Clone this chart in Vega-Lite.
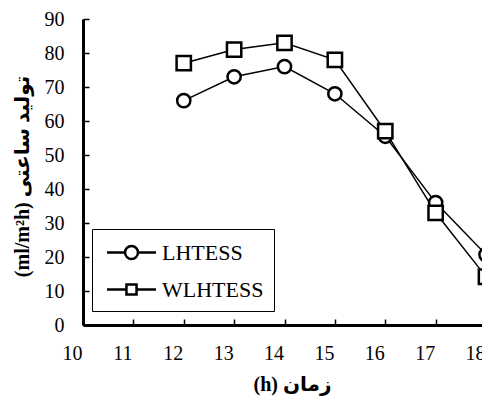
{
  "$schema": "https://vega.github.io/schema/vega-lite/v6.json",
  "width": 403,
  "height": 306,
  "autosize": "none",
  "padding": {"left": 83, "top": 19, "right": 0, "bottom": 71},
  "background": "white",
  "config": {
    "view": {"stroke": null},
    "font": "Liberation Serif",
    "axis": {
      "grid": false,
      "domainColor": "black",
      "domainWidth": 3,
      "tickColor": "black",
      "tickWidth": 1.5,
      "tickSize": -6,
      "labelFont": "Liberation Serif",
      "labelFontSize": 20,
      "labelColor": "black",
      "labelFlush": false,
      "titleFont": "Liberation Serif, DejaVu Sans",
      "titleFontWeight": "bold",
      "titleFontSize": 20,
      "titleColor": "black"
    },
    "legend": {
      "labelFont": "Liberation Serif",
      "labelFontSize": 22,
      "labelColor": "black"
    }
  },
  "data": {
    "values": [
      {"hour": 12, "value": 66, "series": "LHTESS"},
      {"hour": 13, "value": 73, "series": "LHTESS"},
      {"hour": 14, "value": 76, "series": "LHTESS"},
      {"hour": 15, "value": 68, "series": "LHTESS"},
      {"hour": 16, "value": 55.5, "series": "LHTESS"},
      {"hour": 17, "value": 36, "series": "LHTESS"},
      {"hour": 18, "value": 20.7, "series": "LHTESS"},
      {"hour": 12, "value": 77, "series": "WLHTESS"},
      {"hour": 13, "value": 81, "series": "WLHTESS"},
      {"hour": 14, "value": 83, "series": "WLHTESS"},
      {"hour": 15, "value": 78, "series": "WLHTESS"},
      {"hour": 16, "value": 57, "series": "WLHTESS"},
      {"hour": 17, "value": 33, "series": "WLHTESS"},
      {"hour": 18, "value": 14.2, "series": "WLHTESS"}
    ]
  },
  "encoding": {
    "x": {
      "field": "hour", "type": "quantitative",
      "scale": {"domain": [10, 18], "nice": false},
      "axis": {
        "values": [10, 11, 12, 13, 14, 15, 16, 17, 18],
        "title": "(h)  زمان",
        "labelPadding": 24,
        "labelOffset": -11,
        "titleX": 209,
        "titleY": 59,
        "titleBaseline": "middle",
        "titleAnchor": null
      }
    },
    "y": {
      "field": "value", "type": "quantitative",
      "scale": {"domain": [0, 90], "nice": false},
      "axis": {
        "values": [0, 10, 20, 30, 40, 50, 60, 70, 80, 90],
        "title": "(ml/m²h) تولید ساعتی",
        "labelPadding": 25,
        "titleX": -61,
        "titleY": 157,
        "titleBaseline": "middle"
      }
    }
  },
  "layer": [
    {
      "mark": {"type": "line", "color": "black", "strokeWidth": 1.5, "clip": true},
      "encoding": {"detail": {"field": "series"}}
    },
    {
      "mark": {"type": "point", "filled": true, "fill": "white", "stroke": "black", "strokeWidth": 2.5, "opacity": 1},
      "encoding": {
        "shape": {
          "field": "series", "type": "nominal",
          "scale": {"domain": ["LHTESS", "WLHTESS"], "range": ["circle", "square"]},
          "legend": null
        },
        "size": {
          "field": "series", "type": "nominal",
          "scale": {"domain": ["LHTESS", "WLHTESS"], "range": [175, 205]},
          "legend": null
        }
      }
    },
    {
      "transform": [{"filter": "datum.hour > 100"}],
      "mark": {"type": "point", "filled": false, "color": "black", "strokeWidth": 2.5, "opacity": 1},
      "encoding": {
        "shape": {
          "field": "series", "type": "nominal",
          "scale": {
            "domain": ["LHTESS", "WLHTESS"],
            "range": [
              "M -2.04 0 L -0.54 0 M 0.54 0 L 2.04 0 M 0.54 0 A 0.54 0.54 0 1 1 -0.54 0 A 0.54 0.54 0 1 1 0.54 0",
              "M -2.04 0 L -0.42 0 M 0.42 0 L 2.04 0 M -0.42 -0.42 L 0.42 -0.42 L 0.42 0.42 L -0.42 0.42 Z"
            ]
          },
          "legend": {
            "title": null,
            "orient": "none",
            "legendX": 9,
            "legendY": 210,
            "strokeColor": "black",
            "fillColor": "white",
            "padding": 10,
            "rowPadding": 12,
            "labelOffset": 17,
            "symbolOffset": 16,
            "symbolSize": 576,
            "symbolStrokeColor": "black",
            "symbolStrokeWidth": 2.5,
            "symbolFillColor": "white"
          }
        }
      }
    }
  ],
  "resolve": {"scale": {"shape": "independent", "size": "independent"}}
}
